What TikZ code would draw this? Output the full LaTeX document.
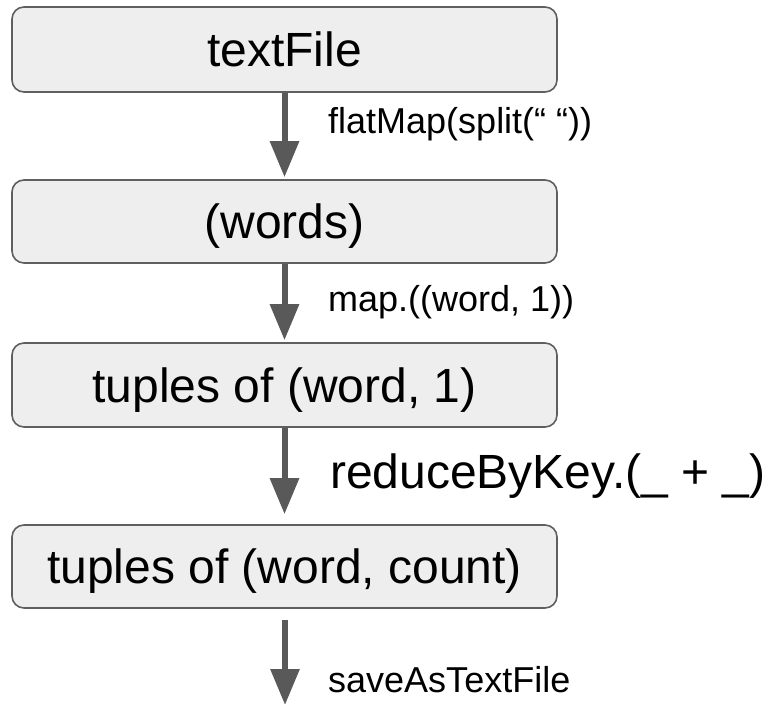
\documentclass[tikz,border=0pt]{standalone}
\usepackage{fontspec}
\setmainfont{Liberation Sans}
\usetikzlibrary{arrows.meta}
\definecolor{boxfill}{HTML}{EEEEEE}
\definecolor{edgegray}{HTML}{5F5F5F}
\definecolor{arrowgray}{HTML}{595959}
\begin{document}
\begin{tikzpicture}[x=1pt,y=-1pt,
  stagebox/.style={draw=edgegray, line width=1.6pt, fill=boxfill, rounded corners=12pt,
    minimum width=545pt, inner sep=0pt, text height=34pt, text depth=0pt,
    font=\fontsize{48}{56}\selectfont},
  flowarrow/.style={draw=arrowgray, line width=6pt,
    -{Triangle[length=36pt,width=28pt]}},
  oplabel/.style={anchor=base west, inner sep=0pt, font=\fontsize{36}{42}\selectfont},
  biglabel/.style={anchor=base west, inner sep=0pt, font=\fontsize{48}{56}\selectfont}]
\useasboundingbox (0,0) rectangle (765,706);
\node[stagebox, minimum height=85pt] (b1) at (284.5,49.5) {textFile};
\node[stagebox, minimum height=83pt] (b2) at (284.5,221.5) {(words)};
\node[stagebox, minimum height=84pt] (b3) at (284.5,385) {tuples of (word, 1)};
\node[stagebox, minimum height=83pt] (b4) at (284.5,566.5) {tuples of (word, count)};
\coordinate (s5) at (285,620);
\coordinate (e5) at (285,705);
\draw[flowarrow, shorten >=2pt] (b1.south) -- (b2.north);
\draw[flowarrow, shorten >=2pt] (b2.south) -- (b3.north);
\draw[flowarrow, shorten >=10pt] (b3.south) -- (b4.north);
\draw[flowarrow] (s5) -- (e5);
\node[oplabel] (l1) at (328,134) {flatMap(split(“ “))};
\node[oplabel] (l2) at (328,311) {map.((word, 1))};
\node[biglabel] (l3) at (330,488) {reduceByKey.(\_ + \_)};
\node[oplabel] (l4) at (328,692) {saveAsTextFile};
\end{tikzpicture}
\end{document}
